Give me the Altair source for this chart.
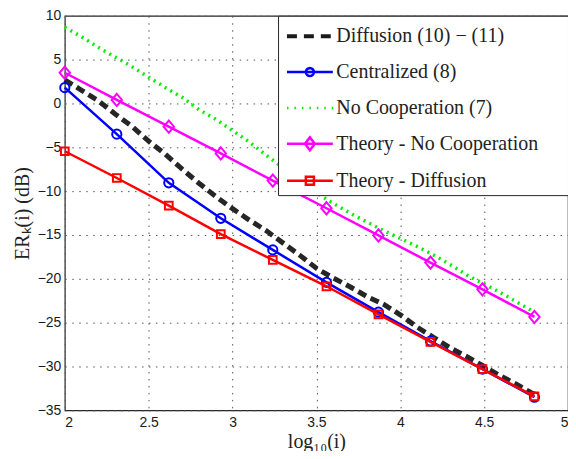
import math
import altair as alt
import pandas as pd

# ---------------- data ----------------
x_markers = [2.00, 2.31, 2.62, 2.93, 3.24, 3.56, 3.87, 4.18, 4.49, 4.80]
centralized = [1.8, -3.5, -9.05, -13.1, -16.7, -20.4, -23.8, -27.1, -30.3, -33.5]
theory_nocoop = [3.5, 0.4, -2.65, -5.7, -8.8, -11.95, -15.05, -18.15, -21.2, -24.35]
theory_diff = [-5.45, -8.5, -11.65, -14.9, -17.85, -20.85, -24.05, -27.2, -30.3, -33.4]

x_dense = [2.0, 2.1, 2.2, 2.3, 2.4, 2.5, 2.6, 2.7, 2.8, 2.9, 3.0, 3.1, 3.2, 3.3, 3.4,
           3.5, 3.6, 3.7, 3.8, 3.9, 4.0, 4.1, 4.2, 4.3, 4.4, 4.5, 4.6, 4.7, 4.8]
diffusion = [2.7, 1.5, 0.3, -1.2, -2.6, -4.3, -5.8, -7.5, -9.1, -10.6, -12.0, -13.3, -14.5,
             -15.9, -17.3, -18.8, -19.9, -20.9, -22.0, -22.9, -24.1, -25.5, -26.7, -27.9,
             -28.9, -30.0, -31.1, -32.1, -33.2]
no_coop = [8.7, 7.6, 6.4, 5.3, 4.2, 3.0, 1.8, 0.7, -0.7, -1.8, -3.1, -4.4, -5.9, -7.3,
           -8.7, -10.2, -11.4, -12.5, -13.5, -14.5, -15.4, -16.3, -17.3, -18.4, -19.6,
           -20.6, -21.6, -22.7, -23.8]

series_names = ["Diffusion (10) \u2212 (11)", "Centralized (8)", "No Cooperation (7)",
                "Theory - No Cooperation", "Theory - Diffusion"]
series_colors = ["#1a1a1a", "#0000ff", "#00ee00", "#ff00ff", "#ff0000"]

x_ticks = [2, 2.5, 3, 3.5, 4, 4.5, 5]
y_ticks = [-35, -30, -25, -20, -15, -10, -5, 0, 5, 10]

SERIF = "Liberation Serif"

# ---------------- tables ----------------
rows = []
for xv, yv in zip(x_dense, diffusion):
    rows.append({"x": xv, "y": yv, "series": series_names[0]})
for xv, yv in zip(x_dense, no_coop):
    rows.append({"x": xv, "y": yv, "series": series_names[2]})
for xv, yv in zip(x_markers, centralized):
    rows.append({"x": xv, "y": yv, "series": series_names[1]})
for xv, yv in zip(x_markers, theory_nocoop):
    rows.append({"x": xv, "y": yv, "series": series_names[3]})
for xv, yv in zip(x_markers, theory_diff):
    rows.append({"x": xv, "y": yv, "series": series_names[4]})
df = pd.DataFrame(rows)

# ---------------- legend symbol paths (line + marker) ----------------
A = -0.77
B = A + 3.07
XM = (A + B) / 2


def f(v):
    return f"{v:.3f}"


def poly(pts):
    return "M" + "L".join(f"{f(px)},{f(py)}" for px, py in pts) + "Z"


line_path = f"M{f(A)},0H{f(B)}"
dash_path = ""
for off in (-0.05, 0.05):
    for k in range(3):
        s = A + k * 1.133
        dash_path += f"M{f(s)},{f(off)}H{f(s + 0.667)}"
dot_path = "".join(f"M{f(A + k * 0.5)},0H{f(A + k * 0.5 + 0.1)}" for k in range(7))
circle_pts = [(XM + 0.27 * math.cos(2 * math.pi * i / 16), 0.27 * math.sin(2 * math.pi * i / 16))
              for i in range(16)]
circ_path = line_path + poly(circle_pts)
diam_path = line_path + poly([(XM, -0.43), (XM + 0.33, 0), (XM, 0.43), (XM - 0.33, 0)])
sq_path = line_path + poly([(XM - 0.27, -0.27), (XM + 0.27, -0.27), (XM + 0.27, 0.27), (XM - 0.27, 0.27)])
legend_shapes = [dash_path, circ_path, dot_path, diam_path, sq_path]

xs = alt.Scale(domain=[2, 5], nice=False, zero=False)
ys = alt.Scale(domain=[-35, 10], nice=False, zero=False)

x_enc = alt.X("x:Q", scale=xs,
              axis=alt.Axis(values=x_ticks, format=".1~f", title="log\u2081\u2080(i)"))
y_enc = alt.Y("y:Q", scale=ys,
              axis=alt.Axis(values=y_ticks, title="ER\u2096(i)  (dB)"))

base = alt.Chart(df).encode(x=x_enc, y=y_enc)


def sel(i):
    return base.transform_filter(alt.datum.series == series_names[i])


l_diff = sel(0).mark_line(color=series_colors[0], strokeWidth=5, strokeDash=[9, 5], opacity=0.95)
l_cent = sel(1).mark_line(color=series_colors[1], strokeWidth=2.5)
p_cent = sel(1).mark_point(shape="circle", size=85, filled=False, color=series_colors[1],
                           strokeWidth=2, opacity=1)
l_noco = sel(2).mark_line(color=series_colors[2], strokeWidth=3.5, strokeDash=[2, 4.5])
l_thn = sel(3).mark_line(color=series_colors[3], strokeWidth=2.5)
p_thn = sel(3).mark_point(shape="M0,-1L0.85,0L0,1L-0.85,0Z", size=150, filled=False,
                          color=series_colors[3], strokeWidth=2, opacity=1)
l_thd = sel(4).mark_line(color=series_colors[4], strokeWidth=2.5)
p_thd = sel(4).mark_point(shape="square", size=60, filled=False, color=series_colors[4],
                          strokeWidth=2, opacity=1)

# trailing no-break spaces (kept by a final zero-width space) widen the legend box
pad_expr = "datum.label + '" + "\u00a0" * 5 + "\u200b'"

legend_layer = base.mark_point(opacity=0, filled=False).encode(
    color=alt.Color("series:N",
                    scale=alt.Scale(domain=series_names, range=series_colors),
                    legend=alt.Legend(
                        title=None, orient="top-right", offset=0, padding=4,
                        rowPadding=9, symbolSize=900, symbolStrokeWidth=2.5,
                        symbolOpacity=1, labelFont=SERIF, labelFontSize=20,
                        labelOffset=21.5, labelColor="#222222", labelLimit=400,
                        labelExpr=pad_expr,
                        strokeColor="#262626", fillColor="white", cornerRadius=0)),
    shape=alt.Shape("series:N",
                    scale=alt.Scale(domain=series_names, range=legend_shapes)),
)

chart = alt.layer(
    legend_layer, l_diff, l_cent, p_cent, l_noco, l_thn, p_thn, l_thd, p_thd
).properties(
    width=505, height=396,
    padding={"left": 57, "top": 7, "right": 0, "bottom": 40},
    autosize=alt.AutoSizeParams(type="none"),
).configure_view(
    stroke="#262626", strokeWidth=1.2
).configure_axis(
    domain=False, tickSize=0, grid=True, gridDash=[1.5, 5.5], gridColor="#555555",
    gridWidth=1, labelFont="Liberation Sans", labelFontSize=14, labelColor="#1a1a1a",
    titleFont=SERIF, titleFontSize=20, titleFontWeight="normal", titleColor="#222222",
).configure_axisX(
    labelPadding=5, titlePadding=2
).configure_axisY(
    labelPadding=4, titlePadding=5
).configure_legend(
    labelFont=SERIF, labelFontSize=20
)

chart.save("out.html", embed_options={"renderer": "svg", "actions": False})
